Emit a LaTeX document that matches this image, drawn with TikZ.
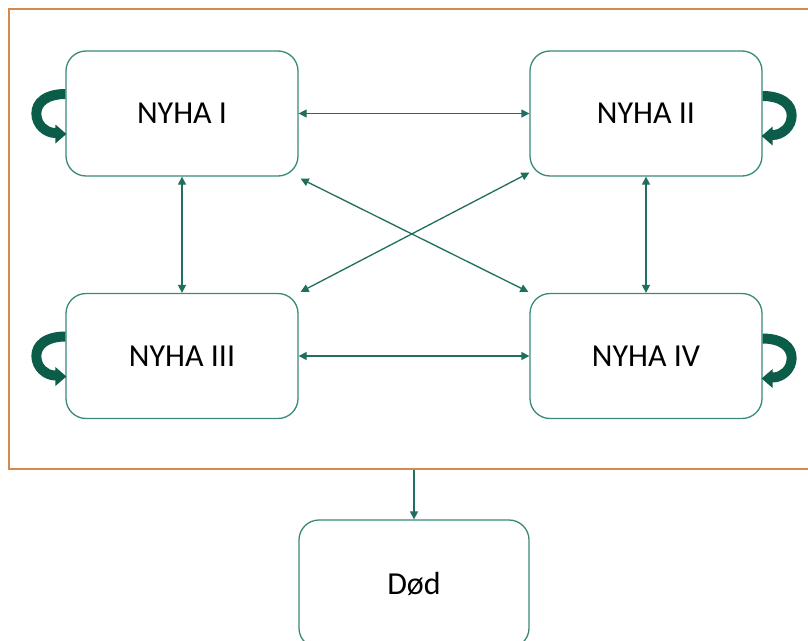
\documentclass[tikz,border=0pt]{standalone}
\usepackage{fontspec}
\setmainfont{Carlito}
\usetikzlibrary{arrows.meta}
\definecolor{boxc}{HTML}{3A8A7A}
\definecolor{linec}{HTML}{1F6E5E}
\definecolor{loopc}{HTML}{0B5C48}
\definecolor{framec}{HTML}{D48A4E}
\begin{document}
\begin{tikzpicture}[x=1pt,y=-1pt,
  state/.style={draw=boxc, line width=1.3pt, rounded corners=20pt,
    minimum width=232pt, minimum height=125pt, inner sep=0pt,
    font=\fontsize{32}{38}\selectfont},
  tipA/.style={Triangle[length=8pt,width=8pt]},
  conn/.style={draw=linec, line width=1.3pt, {Triangle[length=8pt,width=8pt]}-{Triangle[length=8pt,width=8pt]}},
  oneway/.style={draw=linec, line width=1.3pt, -{Triangle[length=8pt,width=8pt]}},
  pics/selfloop/.style={code={
    \fill[loopc] (0,-24.5) .. controls (-22,-24.5) and (-34,-14) .. (-34,0)
      .. controls (-34,14) and (-22,24.5) .. (-10,24.5) -- (-10,30) -- (1,20.5)
      -- (-10,11) -- (-10,14.5) .. controls (-18,14.5) and (-24,8) .. (-24,0)
      .. controls (-24,-8) and (-16,-14.5) .. (0,-14.5) -- cycle;
  }}
]
\useasboundingbox (0,0) rectangle (808,640);
\clip (0,0) rectangle (808,640);
\fill[white] (0,0) rectangle (808,640);
\node[draw=framec, line width=1.3pt, minimum width=806pt, minimum height=460pt, inner sep=0pt] (frame) at (412,239) {};
\node[state] (n1) at (182,113.5) {NYHA I};
\node[state] (n2) at (646,113.5) {NYHA II};
\node[state] (n3) at (182,356) {NYHA III};
\node[state] (n4) at (646,356) {NYHA IV};
\node[state, minimum width=230pt, minimum height=128pt] (dod) at (414,584) {Død};
\draw[conn] (n1.east) -- (n2.west);
\draw[conn] (n3.east) -- (n4.west);
\draw[conn] (n1.south) -- (n3.north);
\draw[conn] (n2.south) -- (n4.north);
\draw[conn] ([shift={(2,2)}]n1.south east) -- ([shift={(-1,-1)}]n4.north west);
\draw[conn] ([shift={(0,-4)}]n2.south west) -- ([shift={(2,-1)}]n3.north east);
\draw[oneway] (frame.south -| dod.north) -- (dod.north);
\pic at (n1.west) {selfloop};
\pic at (n3.west) {selfloop};
\pic[xscale=-1] at ([yshift=-2pt]n2.east) {selfloop};
\pic[xscale=-1] at ([yshift=-2pt]n4.east) {selfloop};
\end{tikzpicture}
\end{document}
